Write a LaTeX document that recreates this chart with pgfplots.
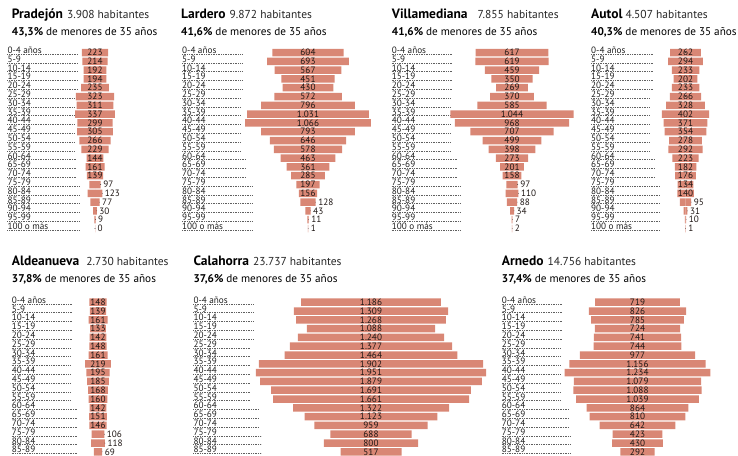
\documentclass[border=0pt]{standalone}
\usepackage{fontspec}
\setmainfont{PT Sans}
\usepackage{pgfplots}
\pgfplotsset{compat=1.18}
\usepackage{pgfplotstable}
\definecolor{barc}{RGB}{217,135,117}
\definecolor{numc}{RGB}{30,22,20}
\definecolor{agec}{RGB}{30,30,30}
\definecolor{dotc}{RGB}{95,95,95}
\newcommand\agefont{\fontsize{9.2}{9}\selectfont}
\newcommand\numfont{\fontsize{9.2}{9}\selectfont}

\pgfplotstableread{
r v lab in
0 223 223 1
1 214 214 1
2 192 192 1
3 194 194 1
4 235 235 1
5 323 323 1
6 311 311 1
7 337 337 1
8 299 299 1
9 305 305 1
10 266 266 1
11 229 229 1
12 144 144 1
13 161 161 1
14 139 139 1
15 97 97 0
16 123 123 0
17 77 77 0
18 30 30 0
19 9 9 0
20 0 0 0
}\pradejon
\pgfplotstableread{
r v lab in
0 604 604 1
1 693 693 1
2 567 567 1
3 451 451 1
4 430 430 1
5 572 572 1
6 796 796 1
7 1031 1.031 1
8 1066 1.066 1
9 793 793 1
10 646 646 1
11 578 578 1
12 463 463 1
13 361 361 1
14 285 285 1
15 197 197 1
16 156 156 1
17 128 128 0
18 43 43 0
19 11 11 0
20 1 1 0
}\lardero
\pgfplotstableread{
r v lab in
0 617 617 1
1 619 619 1
2 459 459 1
3 350 350 1
4 269 269 1
5 370 370 1
6 585 585 1
7 1044 1.044 1
8 968 968 1
9 707 707 1
10 499 499 1
11 398 398 1
12 273 273 1
13 201 201 1
14 158 158 1
15 97 97 0
16 110 110 0
17 88 88 0
18 34 34 0
19 7 7 0
20 2 2 0
}\villamediana
\pgfplotstableread{
r v lab in
0 262 262 1
1 294 294 1
2 233 233 1
3 202 202 1
4 233 233 1
5 266 266 1
6 328 328 1
7 402 402 1
8 371 371 1
9 354 354 1
10 278 278 1
11 292 292 1
12 223 223 1
13 182 182 1
14 176 176 1
15 134 134 1
16 140 140 1
17 95 95 0
18 31 31 0
19 10 10 0
20 1 1 0
}\autol
\pgfplotstableread{
r v lab in
0 148 148 1
1 139 139 1
2 161 161 1
3 133 133 1
4 142 142 1
5 148 148 1
6 161 161 1
7 219 219 1
8 195 195 1
9 185 185 1
10 168 168 1
11 160 160 1
12 142 142 1
13 151 151 1
14 146 146 1
15 106 106 0
16 118 118 0
17 69 69 0
}\aldeanueva
\pgfplotstableread{
r v lab in
0 1186 1.186 1
1 1309 1.309 1
2 1268 1.268 1
3 1088 1.088 1
4 1240 1.240 1
5 1377 1.377 1
6 1464 1.464 1
7 1902 1.902 1
8 1951 1.951 1
9 1879 1.879 1
10 1691 1.691 1
11 1661 1.661 1
12 1322 1.322 1
13 1123 1.123 1
14 959 959 1
15 688 688 1
16 800 800 1
17 517 517 1
}\calahorra
\pgfplotstableread{
r v lab in
0 719 719 1
1 826 826 1
2 785 785 1
3 724 724 1
4 741 741 1
5 744 744 1
6 977 977 1
7 1156 1.156 1
8 1234 1.234 1
9 1079 1.079 1
10 1088 1.088 1
11 1039 1.039 1
12 864 864 1
13 810 810 1
14 642 642 1
15 423 423 1
16 430 430 1
17 292 292 1
}\arnedo

\pgfplotsset{
  pyr/.style={hide axis, clip=false, x=0.118pt, y=8.8pt, y dir=reverse,
    xmin=-1100, xmax=1100, ymin=-0.6, ymax=20.6, anchor=origin},
  barsty/.style={xbar, bar width=7.5pt, bar shift=0pt, fill=barc, draw=none},
  lab/.style={only marks, mark=*, mark size=0.01pt, mark options={draw=none, fill=none},
    point meta=explicit symbolic, nodes near coords},
  inlab/.style={lab, restrict expr to domain={\thisrow{in}}{0.5:1.5},
    every node near coord/.append style={anchor=center, font=\numfont, text=numc, inner sep=0pt}},
  outlab/.style={lab, restrict expr to domain={\thisrow{in}}{-0.5:0.5},
    every node near coord/.append style={anchor=west, font=\numfont, text=numc, inner sep=0pt, xshift=2.5pt}},
}

\newcommand\pyr[3]{%
  \begin{axis}[pyr, at={(#2pt,-#3pt)}]
    \addplot[barsty] table[x expr=\thisrow{v}/2, y=r] {#1};
    \addplot[barsty] table[x expr=-\thisrow{v}/2, y=r] {#1};
    \addplot[inlab] table[x expr=0, y=r, meta=lab] {#1};
    \addplot[outlab] table[x expr=\thisrow{v}/2, y=r, meta=lab] {#1};
  \end{axis}}

\newcommand\ages[7]{%
  \foreach \i/\t in {0/0-4 años,1/5-9,2/10-14,3/15-19,4/20-24,5/25-29,6/30-34,7/35-39,8/40-44,9/45-49,10/50-54,11/55-59,12/60-64,13/65-69,14/70-74,15/75-79,16/80-84,17/85-89,18/90-94,19/95-99,20/100 o más}{%
    \ifnum\i>#3\relax\else
      \ifnum\i<5 \def\L{#4}\else\ifnum\i<12 \def\L{#5}\else\ifnum\i<15 \def\L{#6}\else\def\L{#7}\fi\fi\fi
      \pgfmathsetmacro\yy{-(#2+8.8*\i+1.0)}
      \draw[dotc, line width=0.6pt, dash pattern=on 0.6pt off 1.1pt] (#1pt,\yy pt-0.6pt) -- ++(\L pt,0);
      \node[anchor=base west, inner sep=0pt, font=\agefont, text=agec] at (#1pt,\yy pt) {\t};
    \fi}}

\newcommand\ttl[6]{%
  \node[anchor=base west, inner sep=0pt] at (#1pt,-#2pt)
    {\fontsize{13.5}{15}\selectfont\bfseries #3\hspace*{#6pt}\mdseries\fontsize{11.5}{13}\selectfont\color{black!85}#4 habitantes};
  \node[anchor=base west, inner sep=0pt] at (#1pt,-#2pt-17pt)
    {\fontsize{11.2}{13}\selectfont\textbf{#5} de menores de 35 años};}

\begin{document}
\begin{tikzpicture}
\path[use as bounding box] (0,0) rectangle (738pt,-455pt);
\clip (0,0) rectangle (738pt,-455pt);
% titles
\ttl{11.7}{18.5}{Pradejón}{3.908}{43,3\%}{4}
\ttl{181}{18.5}{Lardero}{9.872}{41,6\%}{4}
\ttl{391.7}{18.5}{Villamediana}{7.855}{41,6\%}{10}
\ttl{591}{18.5}{Autol}{4.507}{40,3\%}{3}
\ttl{11.7}{265}{Aldeanueva}{2.730}{37,8\%}{7}
\ttl{193.3}{265}{Calahorra}{23.737}{37,6\%}{4}
\ttl{501.7}{265}{Arnedo}{14.756}{37,4\%}{4}
% age labels
\ages{7.3}{52.5}{20}{70}{66.7}{68.7}{72}
\ages{182}{52.5}{20}{60}{58}{63}{70}
\ages{391.7}{52.5}{20}{60}{58}{65}{69}
\ages{591}{52.5}{20}{62}{58}{64}{69}
\ages{11.7}{302.2}{17}{61}{58}{65}{66}
\ages{193.3}{302.2}{17}{60}{57}{66}{68}
\ages{501.7}{302.2}{17}{61}{59}{67}{69}
% pyramids
\pyr{\pradejon}{95}{52.5}
\pyr{\lardero}{308}{52.5}
\pyr{\villamediana}{512}{52.5}
\pyr{\autol}{685.5}{52.5}
\pyr{\aldeanueva}{98}{302.2}
\pyr{\calahorra}{371}{302.2}
\pyr{\arnedo}{637.5}{302.2}
\end{tikzpicture}
\end{document}
